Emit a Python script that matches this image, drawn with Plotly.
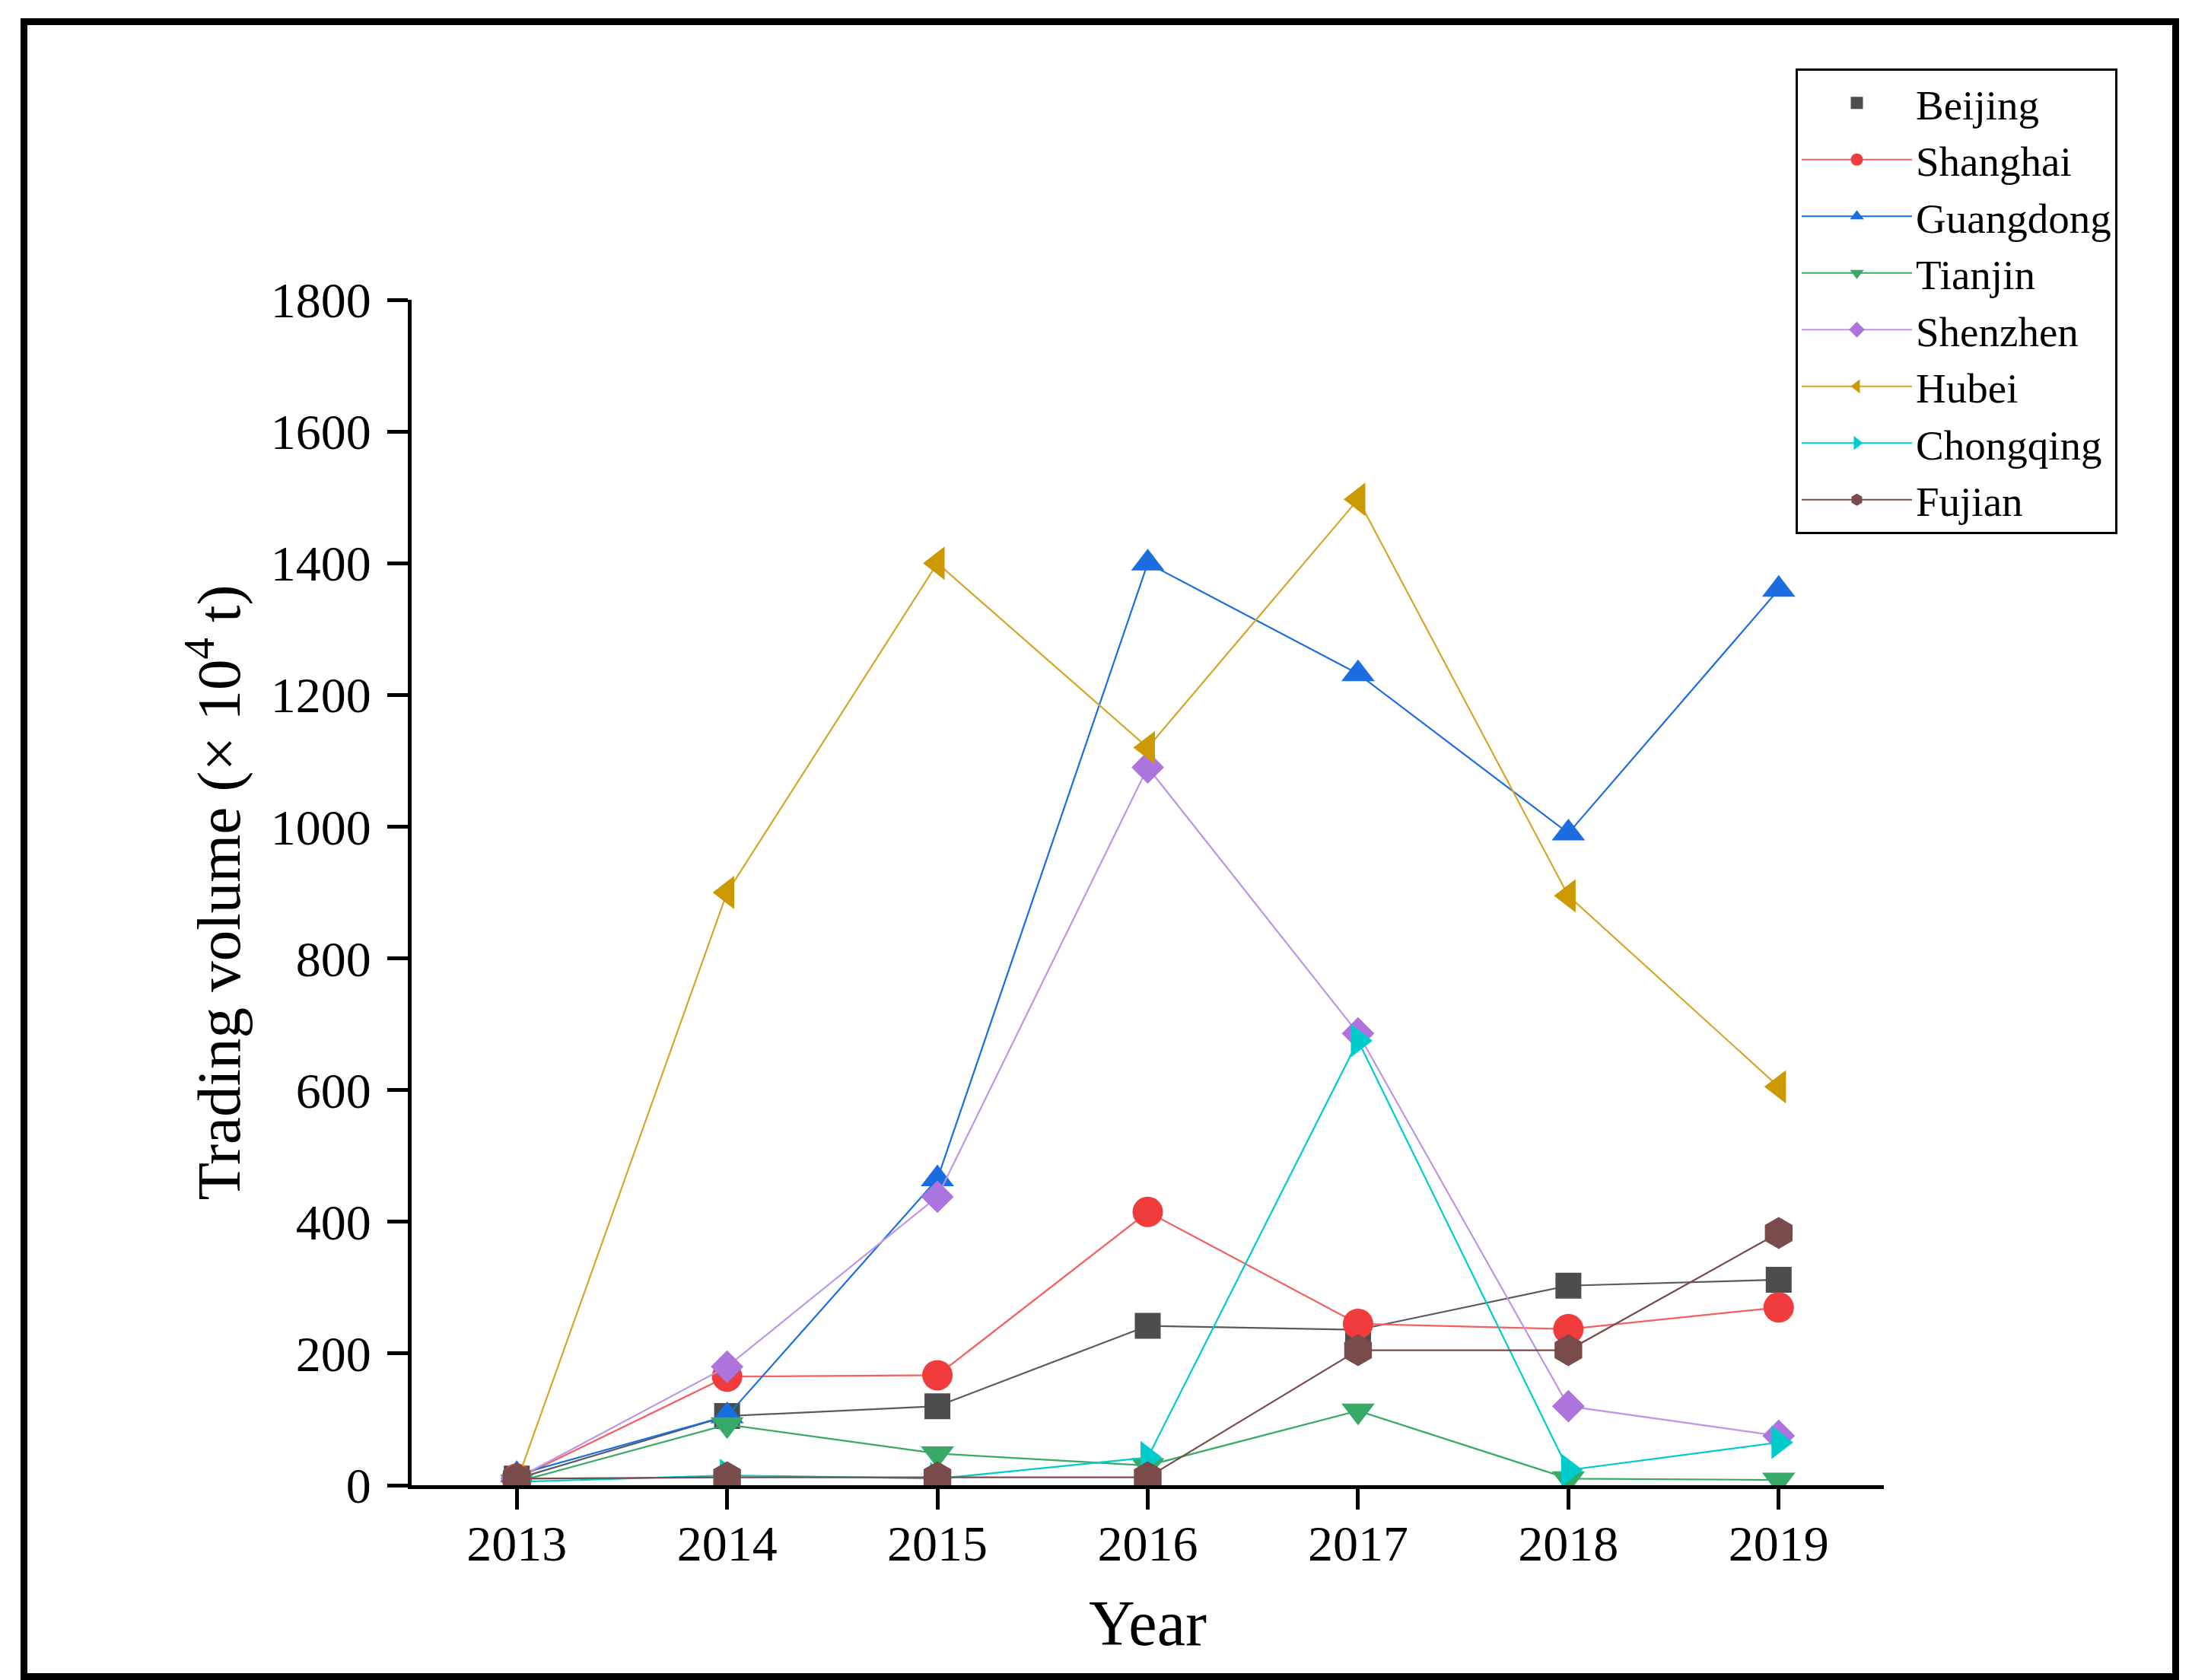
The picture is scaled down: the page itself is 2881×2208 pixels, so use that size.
import plotly.graph_objects as go

years = [2013, 2014, 2015, 2016, 2017, 2018, 2019]
beijing = [10, 105, 120, 242, 236, 303, 312]
shanghai = [10, 165, 167, 415, 245, 237, 270]
guangdong = [16, 105, 465, 1400, 1232, 990, 1360]
tianjin = [5, 92, 48, 30, 113, 10, 8]
shenzhen = [10, 180, 438, 1090, 686, 120, 75]
hubei = [5, 900, 1400, 1120, 1497, 895, 605]
chongqing = [5, 15, 10, 42, 675, 23, 65]
fujian = [10, 12, 12, 12, 205, 205, 383]

names = ["Beijing", "Shanghai", "Guangdong", "Tianjin", "Shenzhen", "Hubei", "Chongqing", "Fujian"]
values = [beijing, shanghai, guangdong, tianjin, shenzhen, hubei, chongqing, fujian]
marker_colors = ["#4D4D4D", "#F03C3C", "#1A6EE0", "#38AA68", "#AE74DE", "#CC9900", "#00CCCC", "#7A4B4B"]
line_colors = ["#5A5A5A", "#F46060", "#1A6EE0", "#38AA68", "#BE95E6", "#D4A62A", "#00CCCC", "#7A4B4B"]
symbols = ["square", "circle", "triangle-up", "triangle-down", "diamond", "triangle-left", "triangle-right", "hexagon"]
sizes = [34, 40, 38, 38, 33, 38, 38, 42]

FONT = "Times New Roman, Liberation Serif, serif"

fig = go.Figure()
for i, (nm, vals) in enumerate(zip(names, values)):
    if nm == "Beijing":
        fig.add_trace(go.Scatter(
            x=years, y=vals, mode="lines", name=nm, legendgroup=nm, showlegend=False,
            line=dict(color=line_colors[i], width=2.2),
        ))
        fig.add_trace(go.Scatter(
            x=years, y=vals, mode="markers", name=nm, legendgroup=nm,
            marker=dict(symbol=symbols[i], size=sizes[i], color=marker_colors[i], line=dict(width=0)),
        ))
    else:
        fig.add_trace(go.Scatter(
            x=years, y=vals, mode="lines+markers", name=nm,
            line=dict(color=line_colors[i], width=2.2),
            marker=dict(symbol=symbols[i], size=sizes[i], color=marker_colors[i], line=dict(width=0)),
        ))

L, R, T, B = 533, 2468, 386, 1944
W, H = 2881, 2208
pw, ph = R - L, B - T

def px_x(p):
    return (p - L) / pw

def px_y(p):
    return (B - p) / ph

fig.update_layout(
    width=W, height=H,
    margin=dict(l=L, r=W - R, t=T, b=H - B, pad=0),
    paper_bgcolor="white", plot_bgcolor="white",
    font=dict(family=FONT, color="black", size=64),
    showlegend=True,
    legend=dict(
        x=px_x(2352), y=px_y(82), xanchor="left", yanchor="top",
        bordercolor="black", borderwidth=3, bgcolor="white",
        font=dict(family=FONT, size=55, color="black"),
        itemwidth=145, tracegroupgap=0,
    ),
    xaxis=dict(
        range=[2012.5, 2019.5], tickmode="array", tickvals=years,
        ticktext=[str(y) for y in years],
        showgrid=False, zeroline=False, showline=True, linecolor="black", linewidth=5,
        ticks="outside", ticklen=27, tickwidth=4.5, tickcolor="black",
        tickfont=dict(family=FONT, size=66, color="black"),
        ticklabelstandoff=-12,
        title=dict(text="Year", font=dict(family=FONT, size=84, color="black"), standoff=40),
    ),
    yaxis=dict(
        range=[0, 1800], tickmode="linear", tick0=0, dtick=200,
        showgrid=False, zeroline=False, showline=True, linecolor="black", linewidth=5,
        ticks="outside", ticklen=27, tickwidth=4.5, tickcolor="black",
        tickfont=dict(family=FONT, size=66, color="black"),
        ticklabelstandoff=8,
        title=dict(text="Trading volume (\u00d7 10<sup>4</sup> t)",
                   font=dict(family=FONT, size=81, color="black"), standoff=15),
    ),
    shapes=[dict(
        type="rect", xref="paper", yref="paper",
        x0=px_x(23.5), x1=px_x(2851.5), y0=px_y(2195.5), y1=px_y(20.5),
        line=dict(color="black", width=9), fillcolor="rgba(0,0,0,0)", layer="above",
    )],
)

fig.write_html("out.html")
